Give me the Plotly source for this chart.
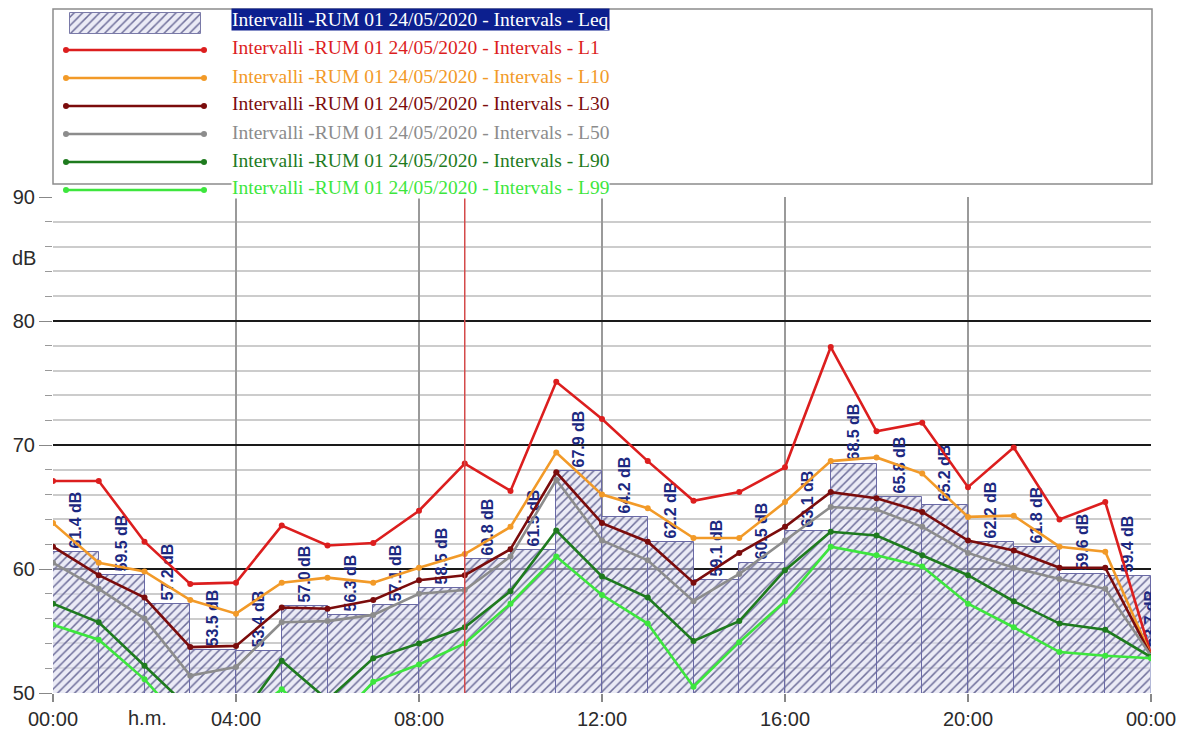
import plotly.graph_objects as go


# =========================
# DATA
# =========================
HOURS = list(range(25))
TICK_HOURS = [0, 4, 8, 12, 16, 20, 24]
TICK_TEXT = ["00:00", "04:00", "08:00", "12:00", "16:00", "20:00", "00:00"]

# hourly Leq (one bar per interval 00-01 ... 23-24)
LEQ = [61.4, 59.5, 57.2, 53.5, 53.4, 57.0, 56.3, 57.1, 58.5, 60.8, 61.5, 67.9,
       64.2, 62.2, 59.1, 60.5, 63.1, 68.5, 65.8, 65.2, 62.2, 61.8, 59.6, 59.4]
LEQ_NEXT = 53.7          # interval starting at 24:00, only its label peeks in
CURSOR_HOUR = 9

# percentile levels at every hour mark
L1 = [67.1, 67.1, 62.2, 58.8, 58.9, 63.5, 61.9, 62.1, 64.7, 68.5, 66.3, 75.1, 72.1,
      68.7, 65.5, 66.2, 68.2, 77.9, 71.1, 71.8, 66.6, 69.8, 64.0, 65.4, 53.1]
L10 = [63.7, 60.5, 59.8, 57.5, 56.4, 58.9, 59.3, 58.9, 60.1, 61.2, 63.4, 69.4, 66.0,
       64.9, 62.5, 62.5, 65.4, 68.7, 69.0, 67.7, 64.2, 64.3, 61.8, 61.4, 53.0]
L30 = [61.8, 59.5, 57.7, 53.7, 53.8, 56.9, 56.8, 57.5, 59.1, 59.5, 61.6, 67.8, 63.7,
       62.2, 58.9, 61.3, 63.4, 66.2, 65.7, 64.6, 62.3, 61.5, 60.1, 60.1, 53.0]
L50 = [60.5, 58.4, 56.0, 51.4, 52.1, 55.7, 55.8, 56.3, 58.0, 58.3, 61.0, 67.2, 62.3,
       60.7, 57.4, 59.6, 62.3, 65.0, 64.8, 63.4, 61.3, 60.1, 59.2, 58.4, 53.0]
L90 = [57.2, 55.7, 52.2, 48.7, 47.5, 52.6, 49.45, 52.8, 54.0, 55.3, 58.2, 63.1, 59.4,
       57.7, 54.2, 55.8, 59.9, 63.0, 62.7, 61.1, 59.5, 57.4, 55.6, 55.1, 52.9]
L99 = [55.5, 54.3, 51.1, 47.0, 47.5, 50.3, 47.0, 50.9, 52.3, 54.0, 57.2, 61.0, 57.9,
       55.6, 50.5, 54.1, 57.4, 61.8, 61.1, 60.2, 57.2, 55.3, 53.3, 53.0, 52.8]

PREFIX = "Intervalli -RUM 01 24/05/2020 - Intervals - "


# =========================
# STYLE
# =========================
SANS = "Liberation Sans, Arial"
SERIF = "Liberation Serif, Times New Roman"
TICK_FONT = dict(family=SANS, size=20, color="#2b2b2b")
LABEL_FONT = dict(family=SANS, size=16, color="#1c2880", weight="bold")
LEGEND_FONT_SIZE = 19.5

NAVY = "#0c1f8f"
BAR_BG = "rgba(222,222,240,0.6)"
HATCH = dict(shape="/", fgcolor="#6e6e9a", bgcolor=BAR_BG,
             size=6, solidity=0.25, fillmode="replace")

SERIES = [
    ("L1", L1, "#dc1e1e"),
    ("L10", L10, "#f29a28"),
    ("L30", L30, "#7b0c0c"),
    ("L50", L50, "#8c8c8c"),
    ("L90", L90, "#1e7b1e"),
    ("L99", L99, "#3de63d"),
]

# page geometry (pixels)
W, H = 1186, 733
PLOT_L, PLOT_R, PLOT_T, PLOT_B = 53, 1151, 197, 693


def px_x(px):
    return (px - PLOT_L) / (PLOT_R - PLOT_L)


def px_y(py):
    return (PLOT_B - py) / PLOT_B


# legend rows (pixel y of each row's text)
LEG_TEXT_X = 231
LEG_ROWS = [20, 48, 76, 104, 132, 160, 188]


fig = go.Figure()

# =========================
# LEQ BARS
# =========================
fig.add_trace(go.Bar(
    x=[h + 0.5 for h in HOURS[:-1]],
    y=LEQ,
    width=1,
    marker=dict(color=BAR_BG, pattern=HATCH,
                line=dict(color="#6a6aa6", width=1)),
    text=[f"{v:.1f} dB" for v in LEQ],
    textposition="outside",
    textangle=-90,
    textfont=LABEL_FONT,
    constraintext="none",
    cliponaxis=True,
    showlegend=False,
    hoverinfo="skip",
))

fig.add_trace(go.Bar(
    x=[HOURS[-1]],
    y=[LEQ_NEXT],
    width=0.02,
    marker=dict(color="rgba(0,0,0,0)"),
    text=[f"{LEQ_NEXT:.1f} dB"],
    textposition="outside",
    textangle=-90,
    textfont=LABEL_FONT,
    constraintext="none",
    cliponaxis=True,
    showlegend=False,
    hoverinfo="skip",
))

# =========================
# PERCENTILE LINES
# =========================
for name, vals, color in SERIES:
    fig.add_trace(go.Scatter(
        x=HOURS,
        y=vals,
        mode="lines+markers",
        name=name,
        line=dict(color=color, width=2.6),
        marker=dict(color=color, size=6),
        showlegend=False,
    ))

# =========================
# HAND-MADE LEGEND (overlay axes in pixel units)
# =========================
fig.add_trace(go.Bar(
    x=[135.5], y=[21], base=[13], width=[131],
    xaxis="x2", yaxis="y2",
    marker=dict(color=BAR_BG, pattern=HATCH,
                line=dict(color="#7a7aa8", width=1)),
    showlegend=False, hoverinfo="skip",
))

for (name, vals, color), row in zip(SERIES, LEG_ROWS[1:]):
    fig.add_trace(go.Scatter(
        x=[66, 204], y=[row + 2, row + 2],
        xaxis="x2", yaxis="y2",
        mode="lines+markers",
        line=dict(color=color, width=2.6),
        marker=dict(color=color, size=6),
        showlegend=False, hoverinfo="skip", cliponaxis=False,
    ))

annotations = [
    dict(text=PREFIX + "Leq", x=px_x(LEG_TEXT_X), y=px_y(LEG_ROWS[0]),
         xref="paper", yref="paper", xanchor="left", yanchor="middle",
         showarrow=False, bgcolor=NAVY, borderpad=0,
         font=dict(family=SERIF, size=LEGEND_FONT_SIZE, color="white"))
]
for (name, vals, color), row in zip(SERIES, LEG_ROWS[1:]):
    annotations.append(dict(
        text=PREFIX + name, x=px_x(LEG_TEXT_X), y=px_y(row),
        xref="paper", yref="paper", xanchor="left", yanchor="middle",
        showarrow=False, bgcolor="white", borderpad=0,
        font=dict(family=SERIF, size=LEGEND_FONT_SIZE, color=color),
    ))

annotations += [
    dict(text="dB", x=px_x(24), y=px_y(258), xref="paper", yref="paper",
         xanchor="center", yanchor="middle", showarrow=False, font=TICK_FONT),
    dict(text="h.m.", x=px_x(147), y=px_y(718), xref="paper", yref="paper",
         xanchor="center", yanchor="middle", showarrow=False, font=TICK_FONT),
]

shapes = [
    dict(type="rect", xref="paper", yref="paper",
         x0=px_x(53), x1=px_x(1152), y0=px_y(184), y1=px_y(9),
         line=dict(color="#8c8c8c", width=1.5), fillcolor="white", layer="below"),
    dict(type="line", xref="x", yref="y", x0=CURSOR_HOUR, x1=CURSOR_HOUR,
         y0=50, y1=90, line=dict(color="#d44a4a", width=1.5)),
]

fig.update_layout(
    width=W, height=H,
    margin=dict(l=PLOT_L, r=W - PLOT_R, t=0, b=H - PLOT_B, pad=0, autoexpand=False),
    paper_bgcolor="white",
    plot_bgcolor="rgba(0,0,0,0)",
    barmode="overlay",
    bargap=0,
    showlegend=False,

    xaxis=dict(
        range=[0, 24], tickvals=TICK_HOURS, ticktext=TICK_TEXT,
        showgrid=True, gridcolor="#9a9a9a", gridwidth=1.5,
        ticks="outside", ticklen=8, tickcolor="#888888", tickwidth=1.5,
        tickfont=TICK_FONT, zeroline=False, showline=False,
    ),
    yaxis=dict(
        domain=[0, px_y(PLOT_T)],
        range=[50, 90], dtick=10,
        showgrid=True, gridcolor="#1a1a1a", gridwidth=1.8,
        ticks="outside", ticklen=13, tickcolor="#888888", tickwidth=1.2,
        tickfont=TICK_FONT, zeroline=False, showline=False,
        minor=dict(dtick=2, showgrid=True, gridcolor="#cccccc", gridwidth=2,
                   ticks="outside", ticklen=7, tickcolor="#999999"),
    ),
    xaxis2=dict(domain=[0, 1], range=[PLOT_L, PLOT_R], anchor="y2",
                visible=False, fixedrange=True),
    yaxis2=dict(domain=[px_y(PLOT_T), 1], range=[PLOT_T, 0], anchor="x2",
                visible=False, fixedrange=True),

    annotations=annotations,
    shapes=shapes,
)

# the page body has a default 8px margin; drop it so the figure fills the window
fig.write_html("out.html", config=dict(displayModeBar=False),
               post_script="document.body.style.margin='0';document.body.style.overflow='hidden';")
